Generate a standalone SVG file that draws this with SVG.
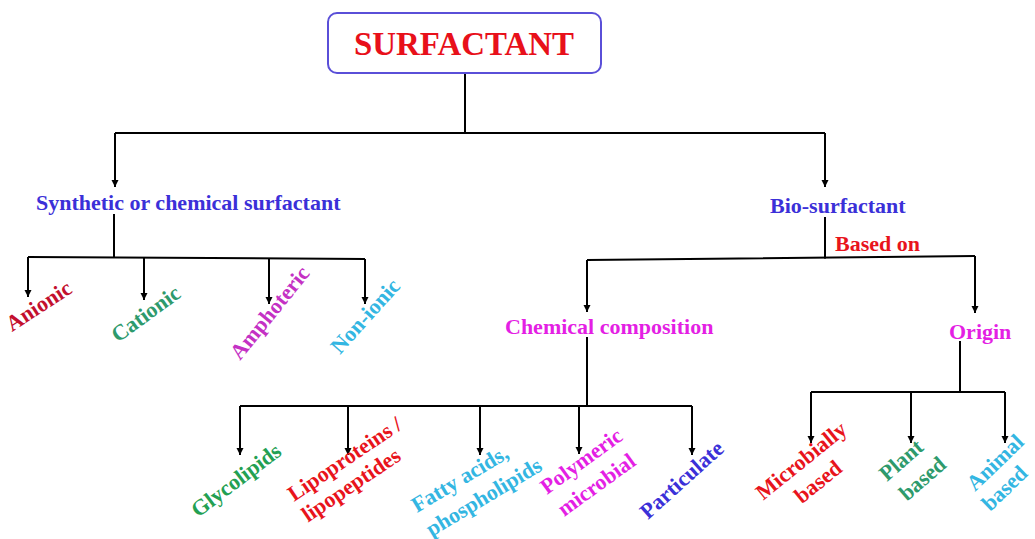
<svg xmlns="http://www.w3.org/2000/svg" width="1035" height="539" viewBox="0 0 1035 539">
  <defs>
    <marker id="arrow" markerUnits="userSpaceOnUse" markerWidth="8" markerHeight="8" refX="7" refY="4" orient="auto">
      <path d="M0,0.5 L7,4 L0,7.5 z" fill="#000"/>
    </marker>
    <style>
      .lbl { font-family: "Liberation Serif", "Times New Roman", serif; font-weight: bold; font-size: 22px; }
      .wire { fill: none; stroke: #000; stroke-width: 2; }
      .arr { fill: none; stroke: #000; stroke-width: 2; marker-end: url(#arrow); }
      .blue { fill: #3b30d8; }
      .red { fill: #e8141c; }
      .crimson { fill: #c3102e; }
      .teal { fill: #2e9a6c; }
      .purple { fill: #c431c4; }
      .cyan { fill: #33b6e2; }
      .magenta { fill: #e41fe4; }
      .green { fill: #23a052; }
    </style>
  </defs>
  <rect width="1035" height="539" fill="#fff"/>

  <!-- connectors -->
  <g id="connectors">
    <!-- root split -->
    <path class="wire" d="M465,73 V133 M115,133 H825"/>
    <path class="arr" d="M115,133 V187"/>
    <path class="arr" d="M825,133 V187"/>
    <!-- synthetic branch -->
    <path class="wire" d="M114,214 V257 M28,257 L365,259"/>
    <path class="arr" d="M28,257 V297"/>
    <path class="arr" d="M144,257 V300"/>
    <path class="arr" d="M269,258 V304"/>
    <path class="arr" d="M365,259 V304"/>
    <!-- bio branch -->
    <path class="wire" d="M825,217 V259 M587,260 L975,256"/>
    <path class="arr" d="M587,260 V312"/>
    <path class="arr" d="M975,256 V313"/>
    <!-- chemical composition -->
    <path class="wire" d="M587,337 V406 M240,406 H692"/>
    <path class="arr" d="M240,406 V455"/>
    <path class="arr" d="M348,406 V455"/>
    <path class="arr" d="M480,406 V455"/>
    <path class="arr" d="M579,406 V454"/>
    <path class="arr" d="M692,406 V455"/>
    <!-- origin -->
    <path class="wire" d="M960,341 V392 M811,392 H1005"/>
    <path class="arr" d="M811,392 V443"/>
    <path class="arr" d="M911,392 V443"/>
    <path class="arr" d="M1005,392 V443"/>
  </g>

  <g id="surfactant">
    <rect x="328" y="13" width="273" height="60" rx="9" fill="#fff" stroke="#5a4fd8" stroke-width="2"/>
    <text x="464" y="55" text-anchor="middle" font-family="Liberation Serif, Times New Roman, serif" font-weight="bold" font-size="33" fill="#e8101a" textLength="220" lengthAdjust="spacingAndGlyphs">SURFACTANT</text>
  </g>

  <g id="synthetic">
    <text class="lbl blue" x="36" y="210">Synthetic or chemical surfactant</text>
  </g>
  <g id="bio-surfactant">
    <text class="lbl blue" x="770" y="213">Bio-surfactant</text>
    <text class="lbl red" x="835" y="251">Based on</text>
  </g>

  <g id="anionic"><text class="lbl crimson" transform="translate(12,332) rotate(-33)">Anionic</text></g>
  <g id="cationic"><text class="lbl teal" transform="translate(118,343) rotate(-36)">Cationic</text></g>
  <g id="amphoteric"><text class="lbl purple" transform="translate(240,361) rotate(-51)">Amphoteric</text></g>
  <g id="non-ionic"><text class="lbl cyan" transform="translate(340,355) rotate(-48)">Non-ionic</text></g>

  <g id="chemical-composition">
    <text class="lbl magenta" x="505" y="334">Chemical composition</text>
  </g>
  <g id="origin">
    <text class="lbl magenta" x="949" y="339">Origin</text>
  </g>

  <g id="glycolipids"><text class="lbl green" transform="translate(198,518) rotate(-37)">Glycolipids</text></g>
  <g id="lipoproteins">
    <text class="lbl red" transform="translate(294,502) rotate(-34)"><tspan x="0" y="0">Lipoproteins /</tspan><tspan x="0" y="25">lipopeptides</tspan></text>
  </g>
  <g id="fatty-acids">
    <text class="lbl cyan" transform="translate(417,513) rotate(-31)"><tspan x="0" y="0">Fatty acids,</tspan><tspan x="0" y="28">phospholipids</tspan></text>
  </g>
  <g id="polymeric">
    <text class="lbl magenta" transform="translate(547,495) rotate(-36)"><tspan x="0" y="0">Polymeric</tspan><tspan x="1" y="28">microbial</tspan></text>
  </g>
  <g id="particulate"><text class="lbl blue" transform="translate(648,520) rotate(-42)">Particulate</text></g>

  <g id="microbially">
    <text class="lbl red" text-anchor="middle" transform="translate(763,501) rotate(-39)"><tspan x="55" y="0">Microbially</tspan><tspan x="55" y="27">based</tspan></text>
  </g>
  <g id="plant">
    <text class="lbl teal" transform="translate(887,482) rotate(-41)"><tspan x="0" y="0">Plant</tspan><tspan x="2" y="28">based</tspan></text>
  </g>
  <g id="animal">
    <text class="lbl cyan" transform="translate(975,492) rotate(-44)"><tspan x="0" y="0">Animal</tspan><tspan x="-3" y="25">based</tspan></text>
  </g>
</svg>
